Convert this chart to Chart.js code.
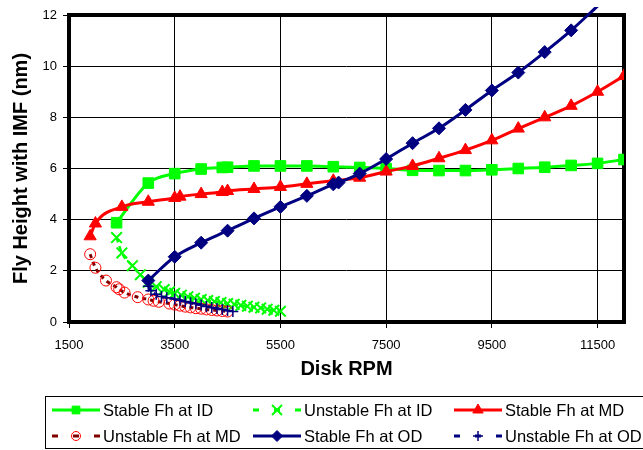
<!DOCTYPE html>
<html>
<head>
<meta charset="utf-8">
<script src="https://cdn.jsdelivr.net/npm/chart.js@4.4.0/dist/chart.umd.min.js"></script>
<style>
  html, body { margin: 0; padding: 0; background: #fff; }
</style>
</head>
<body>
<canvas id="chart" width="643" height="450"></canvas>
<script>
// Fly height vs disk RPM
const xTicks = [1500, 3500, 5500, 7500, 9500, 11500];

const idStableRpm = [2400, 3000, 3500, 4000, 4400, 4500, 5000, 5500, 6000, 6500, 7000, 7500, 8000, 8500, 9000, 9500, 10000, 10500, 11000, 11500, 12000];
const idStableFh  = [3.88, 5.43, 5.8, 5.98, 6.04, 6.05, 6.1, 6.1, 6.1, 6.07, 6.04, 6.0, 5.93, 5.92, 5.92, 5.95, 6.0, 6.05, 6.12, 6.2, 6.35];

const idUnstableRpm = [2400, 2500, 2700, 2850, 3000, 3150, 3300, 3400, 3500, 3625, 3750, 3875, 4000, 4125, 4250, 4375, 4500, 4625, 4750, 4875, 5000, 5125, 5250, 5375, 5500];
const idUnstableFh  = [3.3, 2.7, 2.2, 1.85, 1.55, 1.38, 1.27, 1.18, 1.12, 1.05, 0.99, 0.93, 0.88, 0.84, 0.8, 0.76, 0.72, 0.69, 0.65, 0.62, 0.58, 0.55, 0.5, 0.46, 0.42];

const mdStableRpm = [1900, 2000, 2500, 3000, 3500, 3600, 4000, 4400, 4500, 5000, 5500, 6000, 6500, 7000, 7500, 8000, 8500, 9000, 9500, 10000, 10500, 11000, 11500, 12000];
const mdStableFh  = [3.35, 3.85, 4.5, 4.7, 4.85, 4.9, 5.0, 5.08, 5.12, 5.2, 5.28, 5.4, 5.52, 5.64, 5.88, 6.1, 6.4, 6.72, 7.1, 7.56, 8.0, 8.45, 9.0, 9.62];

const mdUnstableRpm = [1900, 2000, 2200, 2400, 2450, 2550, 2800, 3000, 3100, 3200, 3400, 3500, 3600, 3700, 3800, 3900, 4000, 4100, 4200, 4300, 4400, 4500];
const mdUnstableFh  = [2.65, 2.12, 1.62, 1.36, 1.28, 1.15, 0.97, 0.88, 0.83, 0.79, 0.72, 0.68, 0.64, 0.6, 0.57, 0.54, 0.52, 0.49, 0.47, 0.45, 0.43, 0.41];

const odStableRpm = [3000, 3500, 4000, 4500, 5000, 5500, 6000, 6500, 6600, 7000, 7500, 8000, 8500, 9000, 9500, 10000, 10500, 11000, 11500];
const odStableFh  = [1.62, 2.55, 3.1, 3.57, 4.05, 4.5, 4.93, 5.38, 5.45, 5.8, 6.37, 6.99, 7.57, 8.29, 9.05, 9.75, 10.55, 11.4, 12.35];

const odUnstableRpm = [3000, 3050, 3150, 3250, 3350, 3500, 3600, 3700, 3800, 3900, 4000, 4100, 4200, 4300, 4400, 4500, 4600];
const odUnstableFh  = [1.4, 1.22, 1.08, 1.0, 0.95, 0.9, 0.85, 0.8, 0.75, 0.71, 0.66, 0.61, 0.57, 0.53, 0.49, 0.45, 0.41];

const Y_MAX = 12;
const FONT = "'Liberation Sans', Arial, sans-serif";

function pts(xs, ys){ return xs.map((x, i) => ({x: x, y: ys[i]})); }

const datasets = [
  { label: 'Stable Fh at ID', data: pts(idStableRpm, idStableFh), order: 2,
    borderColor: '#00ff00', borderWidth: 3, pointStyle: 'rect', pointRadius: 7.5, legendRadius: 5.5,
    pointBackgroundColor: '#00ff00', pointBorderColor: '#00ff00', pointBorderWidth: 1 },
  { label: 'Unstable Fh at ID', data: pts(idUnstableRpm, idUnstableFh), order: 5,
    borderColor: '#00ff00', borderWidth: 2.5, borderDash: [5, 4], pointStyle: 'crossRot', pointRadius: 7.5, legendRadius: 7,
    pointBackgroundColor: '#00ff00', pointBorderColor: '#00ff00', pointBorderWidth: 2 },
  { label: 'Stable Fh at MD', data: pts(mdStableRpm, mdStableFh), order: 1,
    borderColor: '#ff0000', borderWidth: 3, pointStyle: 'triangle', pointRadius: 7, legendRadius: 6,
    pointBackgroundColor: '#ff0000', pointBorderColor: '#ff0000', pointBorderWidth: 1 },
  { label: 'Unstable Fh at MD', data: pts(mdUnstableRpm, mdUnstableFh), order: 4,
    borderColor: '#800000', borderWidth: 3, borderDash: [4, 4], pointStyle: 'circle', pointRadius: 5.5, legendRadius: 4.5,
    pointBackgroundColor: 'rgba(0,0,0,0)', pointBorderColor: '#ff0000', pointBorderWidth: 1 },
  { label: 'Stable Fh at OD', data: pts(odStableRpm, odStableFh), order: 0,
    borderColor: '#000080', borderWidth: 3, pointStyle: 'rectRot', legendRadius: 5.5,
    pointRadius: c => (c.raw && c.raw.y > Y_MAX ? 0 : 6.5),
    pointBackgroundColor: '#000080', pointBorderColor: '#000080', pointBorderWidth: 1,
    clip: {left: 5, top: 8, right: 5, bottom: 5} },
  { label: 'Unstable Fh at OD', data: pts(odUnstableRpm, odUnstableFh), order: 3,
    borderColor: '#000080', borderWidth: 2.5, borderDash: [5, 4], pointStyle: 'cross', pointRadius: 5.5, legendRadius: 5,
    pointBackgroundColor: '#000080', pointBorderColor: '#000080', pointBorderWidth: 1.5 }
];

// thick frame round the plot area
const framePlugin = {
  id: 'frame',
  beforeDatasetsDraw(chart){
    const {ctx, chartArea: a} = chart;
    ctx.save();
    ctx.strokeStyle = '#000';
    ctx.lineWidth = 4;
    ctx.strokeRect(a.left, a.top, a.right - a.left, a.bottom - a.top);
    ctx.restore();
  }
};

// boxed legend, three columns by two rows
const legendCols = [52, 253, 454];
const legendRows = [410, 436];
const legendPlugin = {
  id: 'boxLegend',
  afterDraw(chart){
    const ctx = chart.ctx;
    ctx.save();
    ctx.strokeStyle = '#000';
    ctx.lineWidth = 1;
    ctx.strokeRect(45.5, 396.5, 700, 52);
    chart.data.datasets.forEach((ds, i) => {
      const x0 = legendCols[i % 3], y = legendRows[Math.floor(i / 3)], len = 48;
      ctx.strokeStyle = ds.borderColor;
      ctx.lineWidth = 3;
      ctx.setLineDash([]);
      ctx.beginPath();
      if (ds.borderDash){
        [[0, 6], [21, 27], [42, 48]].forEach(s => { ctx.moveTo(x0 + s[0], y); ctx.lineTo(x0 + s[1], y); });
      } else {
        ctx.moveTo(x0, y); ctx.lineTo(x0 + len, y);
      }
      ctx.stroke();
      ctx.fillStyle = ds.pointBackgroundColor;
      ctx.strokeStyle = ds.pointBorderColor;
      ctx.lineWidth = ds.pointBorderWidth;
      Chart.helpers.drawPoint(ctx, {pointStyle: ds.pointStyle, rotation: 0, radius: ds.legendRadius, borderWidth: ds.pointBorderWidth}, x0 + len / 2, y);
      ctx.fillStyle = '#000';
      ctx.font = '16.5px ' + FONT;
      ctx.textBaseline = 'middle';
      ctx.textAlign = 'left';
      ctx.fillText(ds.label, x0 + 51, y + 1);
    });
    ctx.restore();
  }
};

new Chart(document.getElementById('chart'), {
  type: 'line',
  data: { datasets: datasets },
  options: {
    responsive: false,
    animation: false,
    layout: { padding: { left: 0, top: 15, right: 19, bottom: 68 } },
    elements: { line: { cubicInterpolationMode: 'monotone' } },
    plugins: { legend: { display: false }, tooltip: { enabled: false } },
    scales: {
      x: {
        type: 'linear', min: 1500, max: 12000,
        afterBuildTicks: s => { s.ticks = xTicks.map(v => ({value: v})); },
        afterFit: s => { s.height = 60; },
        grid: { color: '#000', lineWidth: 1, tickLength: 6 },
        border: { display: false },
        ticks: { color: '#000', font: { family: FONT, size: 13 }, padding: 10, maxRotation: 0, autoSkip: false,
                 callback: v => String(v) },
        title: { display: true, text: 'Disk RPM', color: '#000',
                 font: { family: FONT, size: 20, weight: 'bold' }, padding: { top: 0, bottom: 1 } }
      },
      y: {
        min: 0, max: Y_MAX,
        afterFit: s => { s.width = 69; },
        grid: { color: '#000', lineWidth: 1, tickLength: 6 },
        border: { display: false },
        ticks: { stepSize: 2, color: '#000', font: { family: FONT, size: 13 }, padding: 6 },
        title: { display: true, text: 'Fly Height with IMF (nm)', color: '#000',
                 font: { family: FONT, size: 20, weight: 'bold' }, padding: { top: 9, bottom: 0 } }
      }
    }
  },
  plugins: [framePlugin, legendPlugin]
});
</script>
</body>
</html>
